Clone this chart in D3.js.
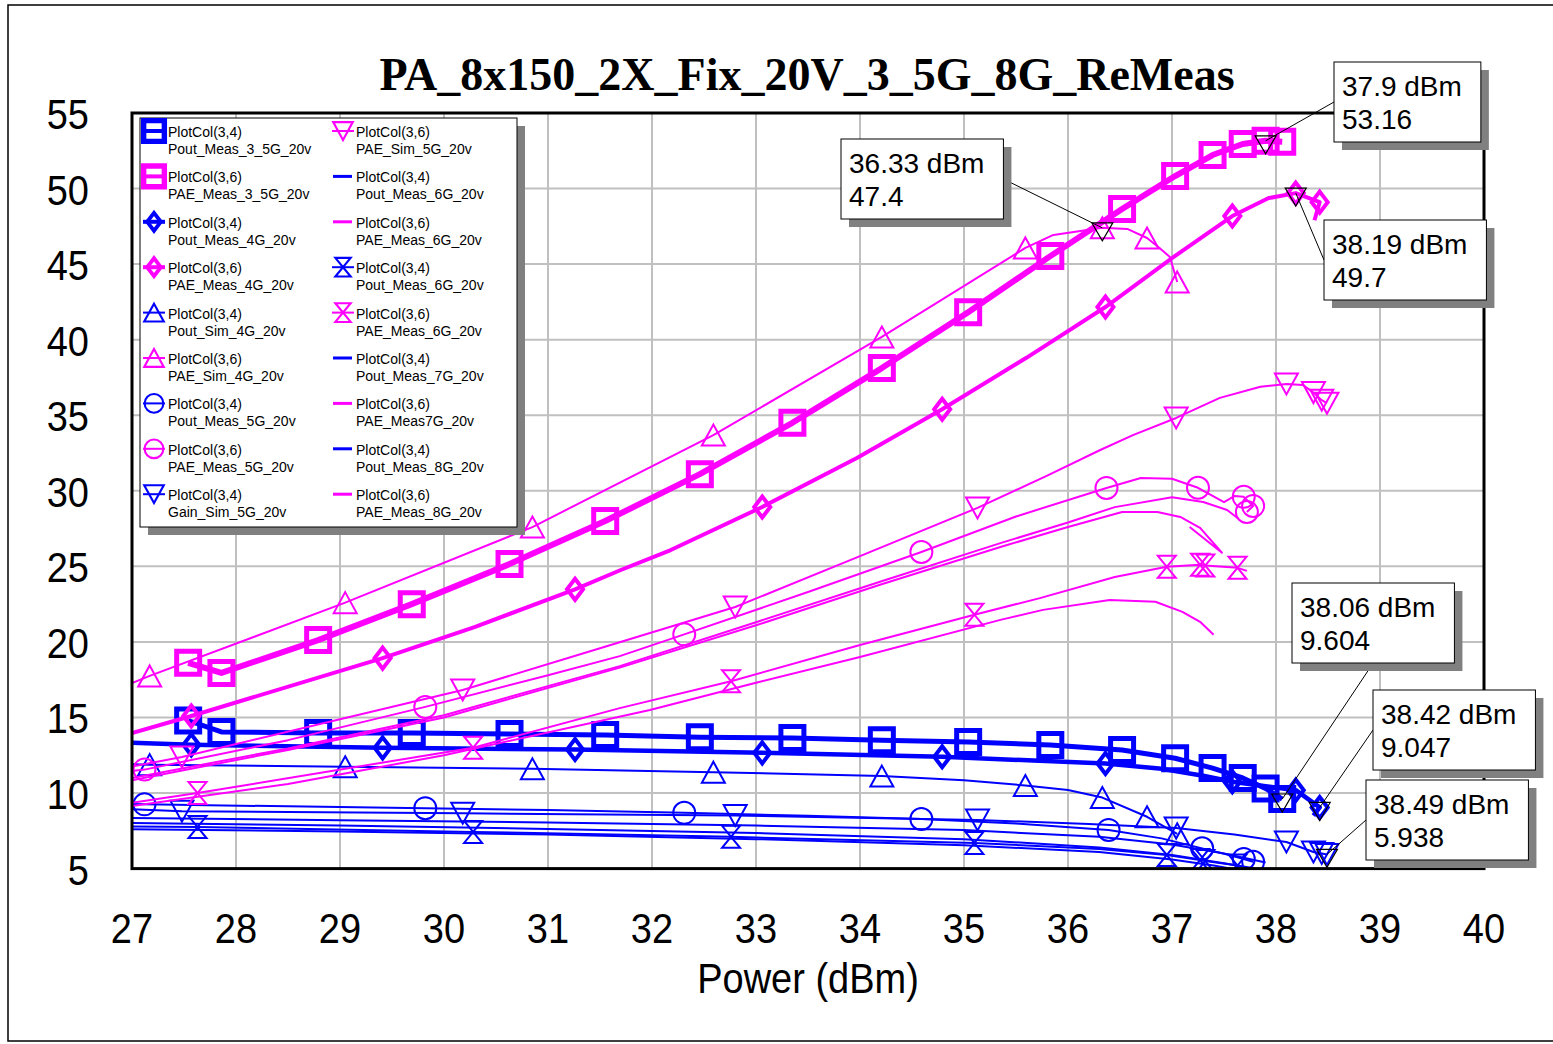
<!DOCTYPE html>
<html>
<head>
<meta charset="utf-8">
<script src="https://cdn.jsdelivr.net/npm/d3@7"></script>
<style>
  body { margin: 0; background: #fff; }
  svg { display: block; }
</style>
</head>
<body>
<script>
// ---- data: [dBm, value, showMarker] ----
const xTickLabels = ['27','28','29','30','31','32','33','34','35','36','37','38','39','40'];
const yTickLabels = ['5','10','15','20','25','30','35','40','45','50','55'];

const poutMeas35 = [[27.54,14.8,1],[27.86,14.04,1],[28.79,13.97,1],[29.69,13.97,1],[30.63,13.9,1],[31.55,13.84,1],[32.46,13.7,1],[33.35,13.64,1],[34.21,13.5,1],[35.04,13.38,1],[35.83,13.18,1],[36.52,12.85,1],[37.03,12.3,1],[37.39,11.65,1],[37.68,11.0,1],[37.9,10.3,1],[38.06,9.604,1]];
const paeMeas35 = [[27.54,18.62,1],[27.86,17.95,1],[28.79,20.12,1],[29.69,22.5,1],[30.63,25.15,1],[31.55,28.0,1],[32.46,31.1,1],[33.35,34.5,1],[34.21,38.12,1],[35.04,41.82,1],[35.83,45.53,1],[36.52,48.64,1],[37.03,50.83,1],[37.39,52.22,1],[37.68,52.95,1],[37.9,53.16,1],[38.06,53.1,1]];
const poutMeas4 = [[27,13.32,0],[27.57,13.19,1],[29.41,12.99,1],[31.26,12.88,1],[33.06,12.66,1],[34.79,12.4,1],[36.36,11.95,1],[36.9,11.6,0],[37.3,11.15,0],[37.58,10.75,1],[37.9,10.45,0],[38.19,10.19,1],[38.42,9.047,1],[38.36,8.5,0]];
const paeMeas4 = [[27,13.97,0],[27.57,15.1,1],[29.41,18.93,1],[30.3,21.0,0],[31.26,23.48,1],[31.7,24.76,0],[32.18,26.08,0],[33.06,28.93,1],[33.97,32.17,0],[34.79,35.4,1],[35.6,38.8,0],[36.36,42.16,1],[37.0,45.4,0],[37.58,48.18,1],[37.93,49.37,0],[38.19,49.7,1],[38.42,49.1,1],[38.37,47.9,0]];
const poutSim4 = [[27,11.9,0],[27.17,11.88,1],[29.05,11.74,1],[30.85,11.6,1],[32.59,11.38,1],[34.21,11.12,1],[35.0,10.85,0],[35.59,10.5,1],[36.0,10.2,0],[36.33,9.7,1],[36.76,8.43,1],[37.05,7.3,1]];
const paeSim4 = [[27,17.28,0],[27.17,17.75,1],[29.05,22.6,1],[30.85,27.6,1],[32.59,33.69,1],[34.21,40.18,1],[35.59,46.07,1],[35.86,46.93,0],[36.33,47.4,1],[36.57,47.33,0],[36.76,46.73,1],[36.88,46.07,0],[36.98,45.47,0],[37.05,43.82,1]];
const poutMeas5 = [[27,9.27,0],[27.12,9.25,1],[28.5,9.12,0],[29.82,9.0,1],[31,8.87,0],[32.31,8.69,1],[33.5,8.5,0],[34.59,8.28,1],[35.5,7.98,0],[36.39,7.56,1],[36.9,7.0,0],[37.29,6.34,1],[37.55,5.9,0],[37.69,5.64,1],[37.78,5.45,1]];
const paeMeas5 = [[27,11.45,0],[27.12,11.55,1],[28.5,13.5,0],[29.82,15.7,1],[31,17.8,0],[31.69,19.06,0],[32.31,20.5,1],[33.5,23.3,0],[34.59,25.95,1],[35.5,28.3,0],[36.37,30.19,1],[36.7,30.85,0],[37.0,30.8,0],[37.25,30.2,1],[37.5,29.25,0],[37.6,29.65,0],[37.69,29.6,1],[37.78,29.0,1],[37.72,28.6,1]];
const gainSim5 = [[27,8.92,0],[27.48,8.8,1],[30.18,8.66,1],[32.8,8.52,1],[35.13,8.22,1],[36.2,7.95,0],[37.04,7.68,1],[37.6,7.25,0],[38.1,6.76,1],[38.36,6.1,1],[38.44,6.0,1],[38.49,5.938,1]];
const paeSim5 = [[27,11.75,0],[27.48,12.39,1],[30.18,16.82,1],[31.5,19.58,0],[32.8,22.31,1],[34,25.68,0],[35.13,28.87,1],[35.8,31.0,0],[36.31,32.7,0],[36.63,33.7,0],[37.04,34.82,1],[37.46,36.15,0],[37.85,36.88,0],[38.1,37.07,1],[38.26,37.0,0],[38.36,36.5,1],[38.44,36.0,1],[38.49,35.8,1]];
const poutMeas6 = [[27,8.35,0],[29,8.2,0],[31,8.05,0],[33,7.85,0],[35,7.55,0],[36.3,7.1,0],[37.0,6.6,0],[37.5,6.0,0],[37.9,5.4,0]];
const paeMeas6 = [[27,10.85,0],[28.5,12.85,0],[30,15.0,0],[31.69,18.3,0],[33,21.1,0],[34.2,23.8,0],[35.35,26.28,0],[36,27.6,0],[36.52,28.6,0],[36.86,28.6,0],[37.08,28.27,0],[37.27,27.55,0],[37.48,25.9,0],[37.17,27.6,0]];
const poutMeas6b = [[27,7.78,0],[27.63,7.75,1],[30.28,7.43,1],[32.76,7.1,1],[35.1,6.7,1],[36.3,6.3,0],[36.95,5.9,1],[37.27,5.57,1],[37.32,5.5,1],[37.63,5.2,1]];
const paeMeas6b = [[27,9.35,0],[27.63,10.0,1],[30.28,13.0,1],[31.69,15.62,0],[32.76,17.4,1],[34,19.8,0],[35.1,21.8,1],[35.73,22.9,0],[36.45,24.3,0],[36.95,24.97,1],[37.27,25.1,1],[37.32,25.05,1],[37.63,24.9,1],[37.72,24.7,0]];
const poutMeas7 = [[27,8.02,0],[29,7.85,0],[31,7.62,0],[33,7.35,0],[35,6.95,0],[36.3,6.4,0],[37.0,5.9,0],[37.5,5.35,0],[37.8,5.0,0]];
const paeMeas7 = [[27,11.0,0],[28.5,12.95,0],[30,15.15,0],[31.69,18.4,0],[33,21.3,0],[34.2,24.0,0],[35.35,26.54,0],[36,27.9,0],[36.45,28.92,0],[37.0,29.58,0],[37.3,29.26,0],[37.53,28.73,0],[37.63,28.2,0]];
const poutMeas8 = [[27,7.61,0],[29,7.45,0],[31,7.25,0],[33,6.95,0],[35,6.55,0],[36.3,6.1,0],[37.0,5.6,0],[37.4,5.2,0],[37.6,4.95,0]];
const paeMeas8 = [[27,9.15,0],[28.5,10.6,0],[30,12.5,0],[31.98,15.5,0],[33,17.3,0],[34,19.0,0],[35.35,21.46,0],[35.76,22.12,0],[36.4,22.78,0],[36.84,22.66,0],[37.1,21.99,0],[37.27,21.33,0],[37.4,20.47,0]];

// marker readouts
const annX = [36.33, 37.9, 38.19, 38.06, 38.42, 38.49];
const annY = [47.4, 53.16, 49.7, 9.604, 9.047, 5.938];

const BLUE = '#0000ff', MAG = '#ff00ff';

const series = [
  {top: 'PlotCol(3,4)', name: 'Pout_Meas_3_5G_20v', data: poutMeas35, color: BLUE, lw: 5, mk: 'square', mw: 5},
  {top: 'PlotCol(3,6)', name: 'PAE_Meas_3_5G_20v', data: paeMeas35, color: MAG, lw: 6, mk: 'square', mw: 5},
  {top: 'PlotCol(3,4)', name: 'Pout_Meas_4G_20v', data: poutMeas4, color: BLUE, lw: 4.5, mk: 'diamond', mw: 4},
  {top: 'PlotCol(3,6)', name: 'PAE_Meas_4G_20v', data: paeMeas4, color: MAG, lw: 4, mk: 'diamond', mw: 4},
  {top: 'PlotCol(3,4)', name: 'Pout_Sim_4G_20v', data: poutSim4, color: BLUE, lw: 2, mk: 'tri', mw: 2},
  {top: 'PlotCol(3,6)', name: 'PAE_Sim_4G_20v', data: paeSim4, color: MAG, lw: 2, mk: 'tri', mw: 2},
  {top: 'PlotCol(3,4)', name: 'Pout_Meas_5G_20v', data: poutMeas5, color: BLUE, lw: 2, mk: 'circle', mw: 2},
  {top: 'PlotCol(3,6)', name: 'PAE_Meas_5G_20v', data: paeMeas5, color: MAG, lw: 2, mk: 'circle', mw: 2},
  {top: 'PlotCol(3,4)', name: 'Gain_Sim_5G_20v', data: gainSim5, color: BLUE, lw: 2, mk: 'tridown', mw: 2},
  {top: 'PlotCol(3,6)', name: 'PAE_Sim_5G_20v', data: paeSim5, color: MAG, lw: 2, mk: 'tridown', mw: 2},
  {top: 'PlotCol(3,4)', name: 'Pout_Meas_6G_20v', data: poutMeas6, color: BLUE, lw: 2, mk: null, mw: 2},
  {top: 'PlotCol(3,6)', name: 'PAE_Meas_6G_20v', data: paeMeas6, color: MAG, lw: 2, mk: null, mw: 2},
  {top: 'PlotCol(3,4)', name: 'Pout_Meas_6G_20v', data: poutMeas6b, color: BLUE, lw: 2, mk: 'hourglass', mw: 2},
  {top: 'PlotCol(3,6)', name: 'PAE_Meas_6G_20v', data: paeMeas6b, color: MAG, lw: 2, mk: 'hourglass', mw: 2},
  {top: 'PlotCol(3,4)', name: 'Pout_Meas_7G_20v', data: poutMeas7, color: BLUE, lw: 2, mk: null, mw: 2},
  {top: 'PlotCol(3,6)', name: 'PAE_Meas7G_20v', data: paeMeas7, color: MAG, lw: 2, mk: null, mw: 2},
  {top: 'PlotCol(3,4)', name: 'Pout_Meas_8G_20v', data: poutMeas8, color: BLUE, lw: 2, mk: null, mw: 2},
  {top: 'PlotCol(3,6)', name: 'PAE_Meas_8G_20v', data: paeMeas8, color: MAG, lw: 2, mk: null, mw: 2}
];

const W = 1553, H = 1044;
const plot = {left: 132, right: 1484, top: 113, bottom: 868.6};
const SANS = '"Liberation Sans", Arial, sans-serif';

const svg = d3.select('body').append('svg')
  .attr('width', W).attr('height', H)
  .style('font-family', SANS);

const x = d3.scaleLinear().domain([27, 40]).range([plot.left, plot.right]);
const y = d3.scaleLinear().domain([5, 55]).range([plot.bottom, plot.top]);

function markerPath(type) {
  switch (type) {
    case 'square': return 'M-11.5,-11.5H11.5V11.5H-11.5Z';
    case 'diamond': return 'M0,-10.5L8,0L0,10.5L-8,0Z';
    case 'tri': return 'M0,-10.5L11.5,10.5H-11.5Z';
    case 'tridown': return 'M-11.5,-10.5H11.5L0,10.5Z';
    case 'circle': return 'M-11,0A11,11 0 1,0 11,0A11,11 0 1,0 -11,0Z';
    case 'hourglass': return 'M-9,-11H9L-9,11H9Z';
  }
  return '';
}

// outer page frame
svg.append('rect')
  .attr('x', 8).attr('y', 5).attr('width', 1600).attr('height', 1036)
  .attr('fill', 'none').attr('stroke', '#000').attr('stroke-width', 1.5);

// title
svg.append('text')
  .attr('x', 807).attr('y', 90)
  .attr('text-anchor', 'middle')
  .style('font-family', '"Liberation Serif", "Times New Roman", serif')
  .style('font-weight', 'bold')
  .style('font-size', '46px')
  .text('PA_8x150_2X_Fix_20V_3_5G_8G_ReMeas');

// grid
const grid = svg.append('g');
grid.selectAll('.vg')
  .data(xTickLabels.map(Number).slice(1, -1))
  .enter().append('line')
  .attr('x1', d => x(d)).attr('x2', d => x(d))
  .attr('y1', plot.top).attr('y2', plot.bottom)
  .attr('stroke', '#c0c0c0').attr('stroke-width', 2);
grid.selectAll('.hg')
  .data(yTickLabels.map(Number).slice(1, -1))
  .enter().append('line')
  .attr('y1', d => y(d)).attr('y2', d => y(d))
  .attr('x1', plot.left).attr('x2', plot.right)
  .attr('stroke', '#c0c0c0').attr('stroke-width', 2);

// tick labels (slightly tall glyphs like the original)
function tallText(g, tx, ty, str, size, anchor) {
  g.append('text')
    .attr('transform', `translate(${tx},${ty}) scale(1,1.1)`)
    .attr('text-anchor', anchor)
    .style('font-size', size + 'px')
    .text(str);
}
const labels = svg.append('g');
yTickLabels.forEach(t => tallText(labels, 89, y(+t) + 16, t, 38, 'end'));
xTickLabels.forEach(t => tallText(labels, x(+t), 943, t, 38, 'middle'));
tallText(labels, 808, 993, 'Power (dBm)', 38, 'middle');

// series
svg.append('clipPath').attr('id', 'clip')
  .append('rect')
  .attr('x', plot.left).attr('y', plot.top)
  .attr('width', plot.right - plot.left).attr('height', plot.bottom - plot.top);

const lineGen = d3.line().x(d => x(d[0])).y(d => y(d[1]));
const chart = svg.append('g').attr('clip-path', 'url(#clip)');

series.forEach(s => {
  chart.append('path')
    .attr('d', lineGen(s.data))
    .attr('fill', 'none')
    .attr('stroke', s.color)
    .attr('stroke-width', s.lw)
    .attr('stroke-linejoin', 'round');
  if (s.mk) {
    chart.selectAll(null)
      .data(s.data.filter(d => d[2]))
      .enter().append('path')
      .attr('transform', d => `translate(${x(d[0])},${y(d[1])})`)
      .attr('d', markerPath(s.mk))
      .attr('fill', 'none')
      .attr('stroke', s.color)
      .attr('stroke-width', s.mw)
      .attr('stroke-linejoin', 'miter');
  }
});

// plot border
svg.append('rect')
  .attr('x', plot.left).attr('y', plot.top)
  .attr('width', plot.right - plot.left).attr('height', plot.bottom - plot.top)
  .attr('fill', 'none').attr('stroke', '#000').attr('stroke-width', 3);

// legend
const lg = svg.append('g');
lg.append('rect').attr('x', 148).attr('y', 126).attr('width', 377).attr('height', 409).attr('fill', '#808080');
lg.append('rect').attr('x', 140).attr('y', 118).attr('width', 377).attr('height', 409)
  .attr('fill', '#fff').attr('stroke', '#000').attr('stroke-width', 1);

series.forEach((s, i) => {
  const col = i < 9 ? 0 : 1;
  const row = i % 9;
  const base = 137 + row * 45.4;
  const cy = base - 6;
  const mx = col === 0 ? 154 : 343;
  const tx = col === 0 ? 168 : 356;
  if (s.mk) {
    lg.append('line')
      .attr('x1', mx - 11).attr('x2', mx + 11).attr('y1', cy).attr('y2', cy)
      .attr('stroke', s.color).attr('stroke-width', Math.min(s.lw, 4));
    lg.append('path')
      .attr('transform', `translate(${mx},${cy}) scale(${s.mk === 'square' ? 0.9 : 0.85})`)
      .attr('d', markerPath(s.mk))
      .attr('fill', 'none').attr('stroke', s.color)
      .attr('stroke-width', s.mk === 'square' ? 6 : s.mw + 0.5);
  } else {
    lg.append('line')
      .attr('x1', 333).attr('x2', 352).attr('y1', cy).attr('y2', cy)
      .attr('stroke', s.color).attr('stroke-width', 3);
  }
  lg.append('text').attr('x', tx).attr('y', base)
    .style('font-size', '14px').text(s.top);
  lg.append('text').attr('x', tx).attr('y', base + 17)
    .style('font-size', '14px').text(s.name);
});

// marker readouts
const boxes = [
  {bx: 841, by: 139, side: 'right'},
  {bx: 1334, by: 62, side: 'left'},
  {bx: 1324, by: 220, side: 'left'},
  {bx: 1292, by: 583, side: 'bottom'},
  {bx: 1373, by: 690, side: 'left'},
  {bx: 1366, by: 780, side: 'left'}
];
const ann = svg.append('g');
annX.forEach((ax, i) => {
  const b = boxes[i];
  const l1 = `${ax} dBm`, l2 = `${annY[i]}`;
  const tmp = ann.append('text').style('font-size', '28px').text(l1);
  const bw = tmp.node().getComputedTextLength() + 27;
  tmp.remove();
  const bh = 80;
  const px = x(ax), py = y(annY[i]);
  let sx, sy;
  if (b.side === 'right') { sx = b.bx + bw; sy = b.by + bh / 2; }
  else if (b.side === 'left') { sx = b.bx; sy = b.by + bh / 2; }
  else { sx = b.bx + bw / 2; sy = b.by + bh; }
  ann.append('line').attr('x1', sx).attr('y1', sy).attr('x2', px).attr('y2', py)
    .attr('stroke', '#000').attr('stroke-width', 1);
  ann.append('path')
    .attr('transform', `translate(${px},${py})`)
    .attr('d', 'M-10.5,-5H10.5L0,13Z')
    .attr('fill', 'none').attr('stroke', '#000').attr('stroke-width', 1.2);
  ann.append('rect').attr('x', b.bx + 8).attr('y', b.by + 8).attr('width', bw).attr('height', bh)
    .attr('fill', '#808080');
  ann.append('rect').attr('x', b.bx).attr('y', b.by).attr('width', bw).attr('height', bh)
    .attr('fill', '#fff').attr('stroke', '#000').attr('stroke-width', 1);
  ann.append('text').attr('x', b.bx + 8).attr('y', b.by + 34)
    .style('font-size', '28px').text(l1);
  ann.append('text').attr('x', b.bx + 8).attr('y', b.by + 67)
    .style('font-size', '28px').text(l2);
});
</script>
</body>
</html>
